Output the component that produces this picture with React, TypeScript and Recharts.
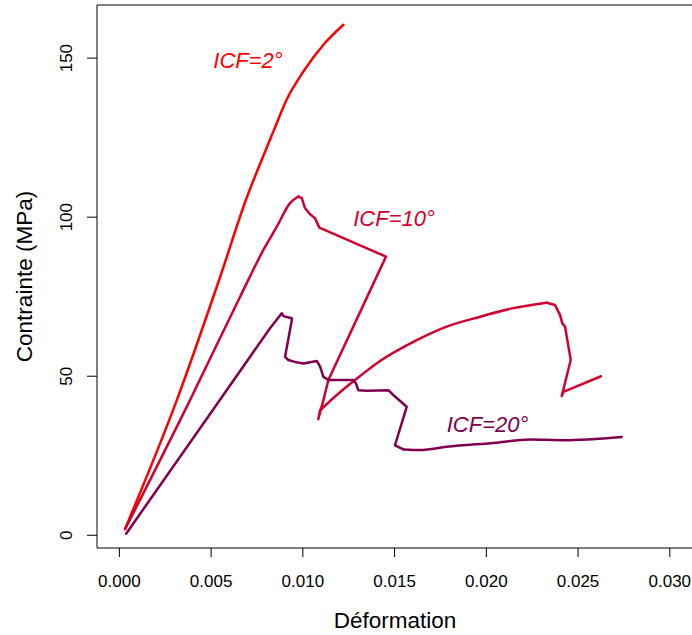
import React from "react";
import { LineChart, Line, XAxis, YAxis, ReferenceLine, Customized } from "recharts";

// ICF = 2°
const icf2Strain = [0.00031, 0.00313, 0.00549, 0.00694, 0.00767, 0.00839, 0.00912, 0.01003, 0.01112, 0.01221];
const icf2Stress = [2.0, 42.5, 81.2, 106.1, 116.8, 126.9, 137.0, 145.8, 154.2, 160.5];

// ICF = 10°
const icf10Strain = [
  0.00031, 0.00385, 0.00658, 0.00785, 0.00858, 0.0093, 0.00975, 0.00994, 0.01012, 0.01039, 0.01066, 0.0109,
  0.01453, 0.01139, 0.01112, 0.01084, 0.01094, 0.01185, 0.01284, 0.01421, 0.01602, 0.01784, 0.01966, 0.02147,
  0.02329, 0.02374, 0.02402, 0.02414, 0.02429, 0.0246, 0.02411, 0.0242, 0.02625,
];
const icf10Stress = [
  1.9, 42.5, 75.0, 89.7, 97.0, 104.4, 106.5, 106.0, 102.8, 100.9, 99.7, 96.7,
  87.6, 48.8, 42.5, 36.5, 39.3, 44.1, 48.8, 54.8, 60.8, 65.6, 68.7, 71.4,
  73.1, 72.4, 69.2, 66.6, 65.6, 55.1, 43.8, 45.1, 50.0,
];

// ICF = 20°
const icf20Strain = [
  0.00037, 0.0054, 0.00821, 0.00885, 0.00894, 0.0094, 0.0094, 0.00903, 0.00921, 0.00957, 0.01003, 0.01076,
  0.01094, 0.01112, 0.01139, 0.01275, 0.0129, 0.01302, 0.01348, 0.01466, 0.01493, 0.01566, 0.01502, 0.01548,
  0.01639, 0.01784, 0.02057, 0.02238, 0.0242, 0.02738,
];
const icf20Stress = [
  0.5, 41.9, 65.1, 69.8, 68.9, 68.2, 67.7, 56.1, 55.1, 54.5, 54.0, 54.8,
  53.0, 49.8, 48.8, 48.8, 47.7, 45.6, 45.4, 45.6, 44.1, 40.4, 28.3, 27.0,
  26.8, 27.8, 29.1, 30.1, 29.9, 30.9,
];

const xTicks = [0, 0.005, 0.01, 0.015, 0.02, 0.025, 0.03];
const yTicks = [0, 50, 100, 150];

// pieces of each curve: [first index, last index, curve type] (smooth parts vs sharp corners)
const icf2Pieces: [number, number, string][] = [[0, 9, "monotone"]];
const icf10Pieces: [number, number, string][] = [
  [0, 6, "monotone"],
  [6, 16, "linear"],
  [16, 24, "monotone"],
  [24, 32, "linear"],
];
const icf20Pieces: [number, number, string][] = [
  [0, 23, "linear"],
  [23, 29, "monotone"],
];

const series = [
  { name: "ICF=2°", xs: icf2Strain, ys: icf2Stress, pieces: icf2Pieces, color: "#FF0000" },
  { name: "ICF=10°", xs: icf10Strain, ys: icf10Stress, pieces: icf10Pieces, color: "#D2002E" },
  { name: "ICF=20°", xs: icf20Strain, ys: icf20Stress, pieces: icf20Pieces, color: "#80004F" },
];

const toPoints = (xs: number[], ys: number[], from: number, to: number) =>
  xs.slice(from, to + 1).map((x, i) => ({ x, y: ys[from + i] }));

const FONT = "'Liberation Sans', Arial, sans-serif";

const XTick = (props: any) => (
  <text x={props.x} y={587} textAnchor="middle" fontFamily={FONT} fontSize={17} fill="#000">
    {props.payload.value.toFixed(3)}
  </text>
);

const YTick = (props: any) => (
  <text
    x={72}
    y={props.y}
    transform={`rotate(-90, 72, ${props.y})`}
    textAnchor="middle"
    fontFamily={FONT}
    fontSize={17}
    fill="#000"
  >
    {props.payload.value}
  </text>
);

const Annotations = () => (
  <g fontFamily={FONT}>
    <text x={395} y={628} textAnchor="middle" fontSize={22.5} fill="#000">
      Déformation
    </text>
    <text x={32} y={276.5} transform="rotate(-90, 32, 276.5)" textAnchor="middle" fontSize={22.5} fill="#000">
      Contrainte (MPa)
    </text>
    <text x={248} y={68} textAnchor="middle" fontSize={22} fontStyle="italic" fill="#FF0000">
      ICF=2°
    </text>
    <text x={394} y={226} textAnchor="middle" fontSize={22} fontStyle="italic" fill="#D2002E">
      ICF=10°
    </text>
    <text x={487.5} y={431.5} textAnchor="middle" fontSize={22} fontStyle="italic" fill="#80004F">
      ICF=20°
    </text>
  </g>
);

export default function App() {
  return (
    <div style={{ position: "absolute", left: 0, top: 0, background: "#fff" }}>
      <LineChart width={692} height={635} margin={{ top: 5, right: 0, bottom: 0, left: 0 }}>
        <XAxis
          dataKey="x"
          type="number"
          domain={[-0.00122, 0.03121]}
          ticks={xTicks}
          allowDataOverflow
          height={87}
          tickSize={9}
          axisLine={{ stroke: "#000" }}
          tickLine={{ stroke: "#000" }}
          tick={XTick}
        />
        <YAxis
          dataKey="y"
          type="number"
          domain={[-4, 166.7]}
          ticks={yTicks}
          allowDataOverflow
          width={97}
          tickSize={10}
          axisLine={{ stroke: "#000" }}
          tickLine={{ stroke: "#000" }}
          tick={YTick}
        />
        <ReferenceLine y={166.7} stroke="#000" />
        {series.map((s) =>
          s.pieces.map(([from, to, type], k) => (
            <Line
              key={`${s.name}-${k}`}
              data={toPoints(s.xs, s.ys, from, to)}
              dataKey="y"
              type={type as any}
              stroke={s.color}
              strokeWidth={2.5}
              strokeLinecap="round"
              strokeLinejoin="round"
              dot={false}
              activeDot={false}
              isAnimationActive={false}
            />
          ))
        )}
        <Customized component={Annotations} />
      </LineChart>
    </div>
  );
}
